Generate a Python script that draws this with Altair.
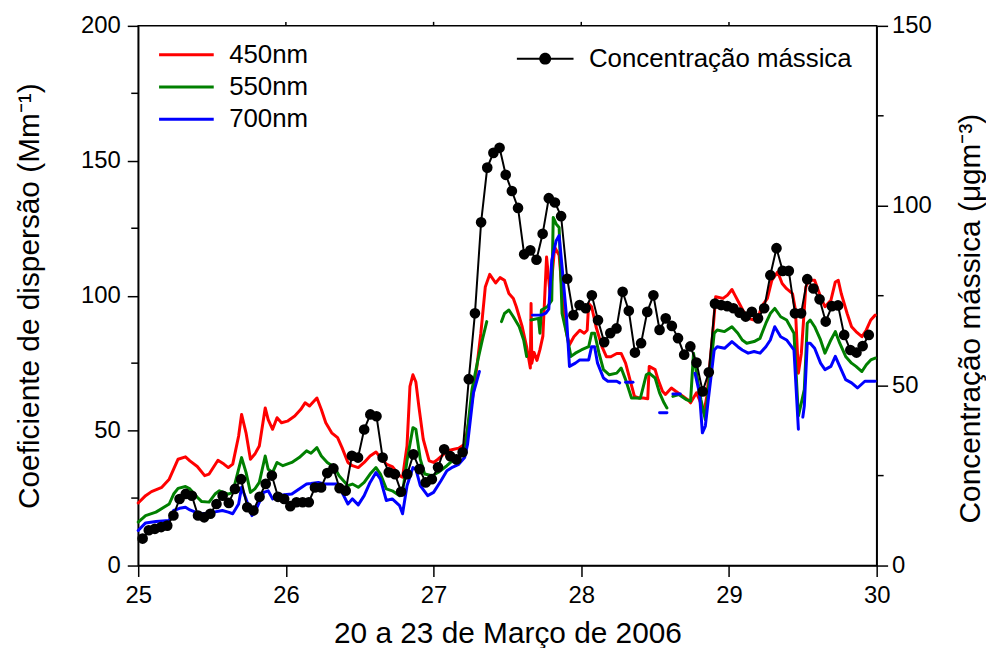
import altair as alt
import pandas as pd

# ---------------- data ----------------
# scattering coefficient (Mm^-1), x = day of March; None marks a gap in the record
red_x = [25.00, 25.05, 25.09, 25.16, 25.21, 25.24, 25.27, 25.32, 25.35, 25.40, 25.45, 25.48,
         25.54, 25.58, 25.61, 25.64, 25.68, 25.70, 25.73, 25.76, 25.79, 25.82, 25.86, 25.88,
         25.91, 25.94, 25.97, 26.01, 26.06, 26.10, 26.13, 26.16, 26.18, 26.21, 26.24, 26.27,
         26.31, 26.35, 26.38, 26.42, 26.45, 26.49, 26.53, 26.57, 26.61, 26.64, 26.68, 26.72,
         26.77, 26.79, 26.82, 26.84, 26.86, 26.88, 26.90, 26.93, 26.97, 27.00, 27.03, 27.07,
         27.09, 27.13, 27.17, 27.21, 27.23, 27.28, 27.32, 27.35, 27.38, 27.42, 27.45, 27.48,
         27.51, 27.54, 27.56, 27.60, 27.63, 27.655, 27.66, 27.665, 27.68, 27.70, 27.72, 27.74,
         27.765, 27.79, 27.82, 27.85, 27.88, 27.90, 27.92, 27.95, 27.99, 28.02, 28.04, 28.05,
         28.07, 28.10, 28.14, 28.17, 28.20, 28.24, 28.27, 28.30, 28.33, 28.36, 28.39, 28.42,
         28.45, 28.46, 28.50, 28.52, 28.55, 28.57, 28.61, 28.64, 28.69, 28.72, 28.74, 28.78,
         28.80, 28.83, 28.85, 28.89, 28.91, 28.96, 28.99, 29.02, 29.04, 29.07, 29.10, 29.13,
         29.17, 29.20, 29.22, 29.26, 29.29, 29.33, 29.36, 29.39, 29.43, 29.45, 29.47, 29.49,
         29.52, 29.54, 29.58, 29.62, 29.65, 29.69, 29.72, 29.74, 29.76, 29.80, 29.83, 29.86,
         29.90, 29.93, 29.96, 29.99]
red_y = [23.2, 25.9, 27.4, 29.0, 32.0, 35.7, 39.4, 40.3, 38.8, 36.7, 33.3, 33.9,
         39.0, 37.6, 36.3, 37.6, 48.0, 56.0, 49.2, 39.4, 41.3, 44.3, 58.4, 54.1,
         50.5, 54.8, 52.9, 53.5, 55.4, 57.8, 60.3, 59.1, 60.3, 62.1, 57.8, 52.9,
         49.2, 47.4, 43.7, 38.2, 37.0, 36.3, 38.2, 40.6, 42.1, 40.0, 37.6, 36.7,
         33.3, 32.7, 44.3, 66.4, 70.7, 68.0, 59.1, 46.8, 38.8, 38.2, 39.4, 41.3,
         42.5, 43.0, 43.5, 45.0, 50.5, 67.7, 86.1, 103.2, 107.9, 104.7, 106.7, 105.7,
         100.8, 99.0, 95.9, 88.5, 81.1, 73.2, 97.1, 75.0, 79.0, 76.0, 80.0, 85.0,
         114.3, 100.0, 118.0, 115.0, 95.0, 86.1, 81.8, 84.8, 87.2, 86.1, 87.2, 97.1,
         95.9, 88.5, 81.1, 77.4, 77.4, 78.6, 78.6, 75.0, 68.8, 62.7, 62.1, 62.1,
         61.8, 73.8, 72.6, 68.9, 64.6, 63.4, 65.8, 64.6, 62.7, 61.5, 60.3, 64.0,
         61.5, 56.6, 62.7, 86.1, 99.6, 99.0, 100.2, 102.3, 100.2, 97.1, 94.0, 91.6,
         91.0, 92.2, 95.9, 99.0, 105.7, 108.8, 104.5, 102.6, 100.8, 94.7, 71.3, 78.7,
         103.2, 105.7, 105.7, 99.6, 95.9, 98.3, 105.1, 105.7, 100.8, 93.4, 88.5, 86.7,
         84.8, 87.3, 91.0, 92.8]

green_x = [25.00, 25.05, 25.12, 25.21, 25.24, 25.27, 25.32, 25.35, 25.40, 25.43, 25.48, 25.52,
           25.55, 25.61, 25.64, 25.68, 25.70, 25.73, 25.76, 25.79, 25.82, 25.86, 25.88, 25.91,
           25.94, 25.98, 26.04, 26.09, 26.14, 26.17, 26.21, 26.24, 26.28, 26.33, 26.36, 26.42,
           26.45, 26.49, 26.53, 26.57, 26.61, 26.64, 26.68, 26.72, 26.77, 26.79, 26.82, 26.86,
           26.88, 26.91, 26.94, 26.99, 27.03, 27.09, 27.13, 27.17, 27.21, 27.23, 27.26, 27.30,
           27.33, 27.36, None, 27.46, 27.48, 27.51, 27.54, 27.58, 27.61, 27.63, None, 27.66,
           27.71, 27.72, 27.73, 27.77, 27.80, 27.81, 27.83, 27.85, 27.87, 27.90, 27.93, 27.96,
           28.00, 28.05, 28.07, 28.09, 28.12, 28.15, 28.19, 28.24, 28.27, 28.30, 28.34, 28.37,
           28.40, 28.44, 28.46, 28.50, 28.53, 28.56, 28.58, None, 28.62, 28.66, 28.71, 28.74,
           28.76, 28.78, 28.81, 28.84, 28.86, 28.90, 28.92, 28.97, 29.02, 29.06, 29.09, 29.12,
           29.17, 29.21, 29.25, 29.28, 29.31, 29.35, 29.39, 29.44, 29.47, 29.51, 29.53, 29.55,
           29.58, 29.62, 29.65, 29.69, 29.72, 29.75, 29.79, 29.83, 29.86, 29.90, 29.93, 29.96,
           29.99]
green_y = [16.1, 18.5, 19.8, 22.8, 26.5, 28.6, 29.3, 28.4, 25.3, 23.7, 23.5, 26.5,
           27.7, 26.5, 27.1, 35.7, 40.0, 34.5, 27.1, 28.4, 30.8, 40.6, 35.7, 34.5,
           38.2, 37.0, 38.2, 40.0, 42.5, 41.6, 43.7, 40.6, 38.2, 36.3, 33.3, 29.6,
           30.2, 29.0, 30.8, 33.9, 36.3, 33.9, 28.4, 27.7, 25.9, 27.1, 38.8, 51.1,
           50.5, 39.4, 33.9, 33.3, 34.5, 37.0, 39.0, 40.0, 42.0, 50.5, 65.2, 76.2,
           83.6, 90.4, None, 90.4, 93.4, 94.7, 92.2, 88.5, 83.6, 77.5, None, 91.0,
           91.6, 86.1, 94.7, 95.9, 98.3, 129.0, 126.6, 125.3, 93.4, 86.1, 77.5, 78.7,
           79.9, 81.1, 86.1, 86.1, 78.7, 72.6, 70.7, 71.3, 73.2, 68.9, 62.1, 62.1,
           62.0, 70.7, 71.3, 69.5, 64.0, 60.3, 58.4, None, 62.7, 63.4, 61.5, 60.9,
           78.7, 71.3, 61.5, 54.1, 65.2, 86.1, 87.3, 86.7, 88.5, 86.1, 83.6, 82.4,
           83.0, 84.2, 89.8, 93.4, 95.3, 92.2, 91.0, 86.1, 55.4, 65.2, 89.8, 91.0,
           88.5, 83.6, 78.7, 83.6, 86.7, 82.4, 77.5, 75.0, 73.8, 71.9, 74.4, 76.2,
           76.9]

blue_x = [25.00, 25.05, 25.12, 25.21, 25.24, 25.28, 25.32, 25.35, 25.40, 25.44, 25.51, 25.57,
          25.61, 25.64, 25.68, 25.70, 25.73, 25.77, 25.80, 25.85, 25.88, 25.91, 25.95, 25.99,
          26.04, 26.09, 26.14, 26.17, 26.22, 26.26, 26.35, 26.38, 26.42, 26.45, 26.49, 26.53,
          26.57, 26.61, 26.64, 26.68, 26.72, 26.77, 26.79, 26.82, 26.86, 26.88, 26.91, 26.96,
          27.00, 27.05, 27.09, 27.13, 27.17, 27.21, 27.23, 27.27, 27.31, None, 27.67, 27.73,
          27.76, 27.78, 27.80, 27.83, 27.85, 27.87, 27.90, 27.92, 27.96, 27.99, 28.05, 28.07,
          28.09, 28.11, 28.15, 28.18, 28.24, 28.26, None, 28.30, 28.35, None, 28.53, 28.58,
          None, 28.62, 28.67, None, 28.77, 28.80, 28.82, 28.84, 28.86, 28.90, 28.92, 28.97,
          29.02, 29.06, 29.09, 29.13, 29.17, 29.21, 29.25, 29.28, 29.31, 29.35, 29.39, 29.44,
          29.47, None, 29.50, 29.51, 29.53, 29.55, 29.58, 29.62, 29.65, 29.69, 29.72, 29.75,
          29.79, 29.83, 29.87, 29.92, 29.99]
blue_y = [13.0, 15.8, 16.3, 16.7, 20.4, 21.2, 21.6, 20.6, 19.5, 19.2, 19.8, 20.4,
          19.8, 19.2, 22.8, 29.0, 24.7, 18.5, 21.0, 27.1, 27.7, 24.7, 25.9, 26.2,
          26.5, 28.4, 30.2, 30.4, 30.8, 30.2, 30.2, 27.1, 22.8, 24.7, 22.5, 25.9,
          30.8, 34.5, 32.0, 24.1, 24.7, 22.2, 19.2, 29.6, 36.3, 35.7, 29.6, 25.9,
          27.1, 31.4, 35.1, 36.5, 37.5, 40.0, 45.0, 64.0, 71.9, None, 92.8, 92.8,
          93.5, 95.0, 113.1, 120.4, 122.3, 110.6, 92.2, 73.8, 75.0, 76.2, 76.2, 81.1,
          81.1, 75.0, 69.5, 68.3, 68.3, 67.7, None, 67.9, 67.9, None, 56.6, 56.6,
          None, 63.6, 63.6, None, 71.3, 64.0, 49.2, 51.7, 61.5, 79.9, 81.1, 80.5,
          83.0, 81.1, 79.9, 78.7, 79.3, 78.7, 81.1, 83.6, 88.5, 84.8, 83.6, 79.9,
          50.5, None, 55.0, 59.1, 82.4, 82.4, 80.5, 75.0, 72.6, 73.8, 77.5, 73.8,
          68.9, 67.7, 65.8, 68.3, 68.3]

# mass concentration (ug m^-3), hourly samples starting at day 25.03
conc_start = 25.03
conc_y = [7.5, 9.8, 10.2, 10.7, 11.1, 13.9, 18.5, 19.9, 19.4, 13.9, 13.4, 14.4,
          17.1, 19.4, 17.4, 21.3, 24.0, 16.2, 15.3, 19.1, 22.7, 25.0, 19.1, 18.5,
          16.5, 17.6, 17.6, 17.6, 21.7, 21.7, 25.7, 27.0, 21.5, 20.8, 30.5, 30.0,
          37.8, 42.0, 41.5, 30.0, 25.9, 25.4, 20.5, 25.4, 30.9, 26.8, 23.1, 24.0,
          27.3, 32.3, 30.4, 29.5, 31.5, 51.8, 70.1, 95.4, 110.6, 114.7, 116.1, 108.6,
          104.1, 99.4, 86.5, 87.6, 85.0, 92.2, 102.1, 100.9, 97.1, 79.7, 69.6, 72.4,
          71.5, 75.1, 68.2, 62.1, 64.6, 65.9, 76.1, 70.8, 59.2, 61.8, 70.5, 75.1,
          65.5, 68.7, 66.6, 63.2, 58.6, 60.9, 56.4, 48.4, 53.7, 72.8, 72.4, 72.1,
          71.5, 70.3, 69.2, 70.5, 68.7, 71.5, 80.7, 88.2, 81.9, 81.9, 70.1, 70.1,
          79.6, 77.0, 74.0, 67.8, 72.1, 72.3, 64.1, 59.9, 59.2, 61.0, 64.1]

series_names = ["450nm", "550nm", "700nm"]
series_colors = ["#ff0000", "#008000", "#0000ff"]
conc_name = "Concentração mássica"

x_ticks = [25, 26, 27, 28, 29, 30]
left_ticks = [0, 50, 100, 150, 200]
left_minor = [25, 75, 125, 175]
right_ticks = [0, 50, 100, 150]
right_minor = [25, 75, 125]
top_ticks = [26, 27, 28, 29]

# ---------------- build tables ----------------
rows = []
for name, xs, ys in zip(series_names, [red_x, green_x, blue_x], [red_y, green_y, blue_y]):
    seg = 0
    for xv, yv in zip(xs, ys):
        if xv is None or yv is None:
            seg += 1
            continue
        rows.append({"x": xv, "y": yv, "serie": name, "seg": f"{name}-{seg}"})
lines_df = pd.DataFrame(rows)

conc_df = pd.DataFrame({
    "x": [conc_start + i / 24 for i in range(len(conc_y))],
    "y": conc_y,
    "serie": conc_name,
})

W, H = 743, 543
FONT = "Liberation Sans"
xscale = alt.Scale(domain=[25, 30], nice=False, zero=False)
lscale = alt.Scale(domain=[0, 200], nice=False)
rscale = alt.Scale(domain=[0, 150], nice=False)

x_axis = alt.Axis(values=x_ticks, title="20 a 23 de Março de 2006", labelFlush=False,
                  labelPadding=7, titlePadding=11, format="d")
l_axis = alt.Axis(values=left_ticks, title="Coeficiente de dispersão (Mm⁻¹)",
                  labelPadding=7, titlePadding=36, format="d")
r_axis = alt.Axis(orient="right", values=right_ticks, title="Concentração mássica (μgm⁻³)",
                  labelPadding=4, titlePadding=24, titleAngle=270, titleBaseline="top",
                  titleY=294, format="d")

LINE_PATH = "M-2.5,0H2.5"
DOT_PATH = "M-4.75,-0.17H4.75V0.17H-4.75Z M1,0A1,1,0,1,1,-1,0A1,1,0,1,1,1,0Z"

lines = alt.Chart(lines_df).mark_line(strokeWidth=3, strokeJoin="round", strokeCap="round").encode(
    x=alt.X("x:Q", scale=xscale, axis=x_axis),
    y=alt.Y("y:Q", scale=lscale, axis=l_axis),
    color=alt.Color("serie:N", scale=alt.Scale(domain=series_names, range=series_colors),
                    legend=alt.Legend(orient="none", legendX=21, legendY=16, title=None,
                                      symbolType=LINE_PATH, symbolSize=484, symbolStrokeWidth=3,
                                      symbolOffset=14.5, labelOffset=30, rowPadding=6.5,
                                      padding=0, labelFontSize=26, labelFont=FONT,
                                      labelColor="black", labelLimit=0)),
    detail="seg:N",
)

minor_l = alt.Chart(pd.DataFrame({"y": left_minor})).mark_rule(color="black", strokeWidth=1.5).encode(
    y=alt.Y("y:Q", scale=lscale, axis=l_axis),
    x=alt.value(-7), x2=alt.value(0),
)
top_t = alt.Chart(pd.DataFrame({"x": top_ticks})).mark_rule(color="black", strokeWidth=1.5).encode(
    x=alt.X("x:Q", scale=xscale, axis=x_axis),
    y=alt.value(-4), y2=alt.value(0),
)

left = alt.layer(lines, minor_l, top_t)

conc_line = alt.Chart(conc_df).mark_line(color="black", strokeWidth=2).encode(
    x=alt.X("x:Q", scale=xscale, axis=x_axis),
    y=alt.Y("y:Q", scale=rscale, axis=r_axis),
)
conc_pts = alt.Chart(conc_df).mark_circle(size=115, opacity=1).encode(
    x=alt.X("x:Q", scale=xscale, axis=x_axis),
    y=alt.Y("y:Q", scale=rscale, axis=r_axis),
    color=alt.Color("serie:N", scale=alt.Scale(domain=[conc_name], range=["black"]),
                    legend=alt.Legend(orient="none", legendX=381, legendY=20, title=None,
                                      symbolType=DOT_PATH, symbolSize=144, symbolStrokeWidth=0,
                                      symbolOffset=15.5, labelOffset=31, padding=0,
                                      labelFontSize=26, labelFont=FONT, labelColor="black",
                                      labelLimit=0)),
)
minor_r = alt.Chart(pd.DataFrame({"y": right_minor})).mark_rule(color="black", strokeWidth=1.5).encode(
    y=alt.Y("y:Q", scale=rscale, axis=r_axis),
    x=alt.value(W), x2=alt.value(W + 7),
)

right = alt.layer(conc_line, conc_pts, minor_r)

chart = alt.layer(left, right).resolve_scale(y="independent", color="independent").properties(
    width=W, height=H,
    autosize=alt.AutoSizeParams(type="none"),
    padding={"left": 131, "top": 16, "right": 110, "bottom": 81},
    background="white",
).configure_view(stroke="black", strokeWidth=1.5).configure_axis(
    grid=False, domainColor="black", domainWidth=1.5, tickColor="black", tickWidth=1.5,
    tickSize=11, labelColor="black", labelFont=FONT, labelFontSize=24,
    titleColor="black", titleFont=FONT, titleFontSize=30, titleFontWeight="normal",
    labelOverlap=False,
)

chart.save("out.html", embed_options={"renderer": "svg", "actions": False})
